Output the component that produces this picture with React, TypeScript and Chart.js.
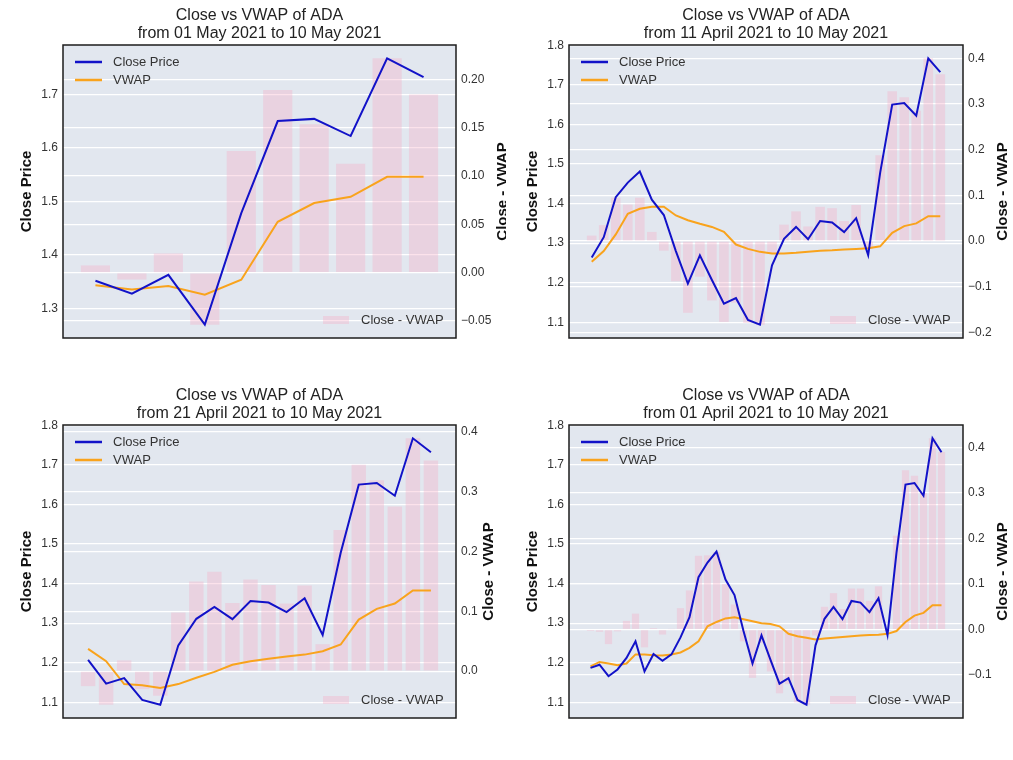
import React, { useEffect, useRef } from 'react';
import { Chart, registerables } from 'chart.js';

Chart.register(...registerables);

const FONT = '"Liberation Sans", Arial, Helvetica, sans-serif';
Chart.defaults.font.family = FONT;

// Daily close price of ADA, 01 April 2021 .. 10 May 2021
const closeApr01to10May = [
  1.187, 1.195, 1.166, 1.183, 1.212, 1.254, 1.178, 1.222, 1.205, 1.221,
  1.264, 1.315, 1.416, 1.453, 1.481, 1.41, 1.371, 1.28, 1.198, 1.269,
  1.207, 1.147, 1.161, 1.106, 1.094, 1.244, 1.311, 1.341, 1.31, 1.356,
  1.352, 1.328, 1.363, 1.27, 1.478, 1.65, 1.654, 1.622, 1.767, 1.732,
];

// VWAP and Close - VWAP, from 01 May 2021
const vwapFromMay01 = [1.3436, 1.3355, 1.342, 1.326, 1.354, 1.462, 1.497, 1.5086, 1.546, 1.546];
const gapFromMay01 = [0.0076, -0.007, 0.02, -0.0537, 0.126, 0.189, 0.1535, 0.1127, 0.2218, 0.1844];

// from 11 April 2021
const vwapFromApr11 = [
  1.253, 1.28, 1.322, 1.374, 1.387, 1.392, 1.392, 1.37, 1.358, 1.349,
  1.341, 1.3285, 1.2965, 1.2855, 1.278, 1.274, 1.274, 1.2755, 1.2785, 1.281,
  1.282, 1.284, 1.2855, 1.287, 1.292, 1.326, 1.343, 1.35, 1.368, 1.368,
];
const gapFromApr11 = [
  0.012, 0.035, 0.095, 0.08, 0.095, 0.02, -0.021, -0.088, -0.157, -0.078,
  -0.13, -0.177, -0.135, -0.179, -0.183, -0.028, 0.036, 0.065, 0.032, 0.075,
  0.072, 0.044, 0.079, -0.017, 0.188, 0.328, 0.315, 0.285, 0.4, 0.365,
];

// from 21 April 2021
const vwapFromApr21 = [
  1.235, 1.204, 1.146, 1.143, 1.136, 1.146, 1.162, 1.177, 1.195, 1.204,
  1.21, 1.2155, 1.2205, 1.229, 1.246, 1.309, 1.336, 1.3496, 1.3825, 1.3825,
];
const gapFromApr21 = [
  -0.025, -0.056, 0.018, -0.03, -0.041, 0.098, 0.15, 0.166, 0.114, 0.153,
  0.144, 0.113, 0.143, 0.045, 0.236, 0.345, 0.319, 0.275, 0.389, 0.352,
];

// from 01 April 2021
const vwapFromApr01 = [
  1.191, 1.202, 1.198, 1.1935, 1.198, 1.221, 1.221, 1.219, 1.218, 1.221,
  1.226, 1.2375, 1.254, 1.292, 1.303, 1.312, 1.315, 1.31, 1.305, 1.3,
  1.298, 1.292, 1.273, 1.267, 1.263, 1.259, 1.261, 1.263, 1.265, 1.267,
  1.269, 1.27, 1.271, 1.273, 1.28, 1.303, 1.319, 1.326, 1.345, 1.345,
];
const gapFromApr01 = [
  -0.003, -0.005, -0.032, -0.004, 0.019, 0.035, -0.039, 0.003, -0.011, 0.001,
  0.047, 0.086, 0.162, 0.163, 0.17, 0.1, 0.055, -0.026, -0.106, -0.03,
  -0.092, -0.14, -0.12, -0.16, -0.165, -0.013, 0.05, 0.08, 0.045, 0.09,
  0.09, 0.063, 0.095, -0.003, 0.206, 0.35, 0.338, 0.3, 0.42, 0.39,
];

const mainTitle = 'Close vs VWAP of ADA';
const subTitles = [
  'from 01 May 2021 to 10 May 2021',
  'from 11 April 2021 to 10 May 2021',
  'from 21 April 2021 to 10 May 2021',
  'from 01 April 2021 to 10 May 2021',
];
const legendLabels = ['Close Price', 'VWAP', 'Close - VWAP'];
const leftAxisTitle = 'Close Price';
const rightAxisTitle = 'Close - VWAP';

const BLUE = '#1212c8';
const ORANGE = '#f9a31c';
const PINK = 'rgba(245, 170, 195, 0.34)';
const BG = '#e2e7ef';
const TEXT = '#333333';

type Panel = {
  sub: string;
  close: number[];
  vwap: number[];
  gap: number[];
  leftStep: number;
  leftDec: number;
  rightStep: number;
  rightDec: number;
  x: number;
  y: number;
  w: number;
  h: number;
};

const panels: Panel[] = [
  { sub: subTitles[0], close: closeApr01to10May.slice(30), vwap: vwapFromMay01, gap: gapFromMay01, leftStep: 0.1, leftDec: 1, rightStep: 0.05, rightDec: 2, x: 0, y: 0, w: 506, h: 380 },
  { sub: subTitles[1], close: closeApr01to10May.slice(10), vwap: vwapFromApr11, gap: gapFromApr11, leftStep: 0.1, leftDec: 1, rightStep: 0.1, rightDec: 1, x: 506, y: 0, w: 507, h: 380 },
  { sub: subTitles[2], close: closeApr01to10May.slice(20), vwap: vwapFromApr21, gap: gapFromApr21, leftStep: 0.1, leftDec: 1, rightStep: 0.1, rightDec: 1, x: 0, y: 380, w: 506, h: 380 },
  { sub: subTitles[3], close: closeApr01to10May, vwap: vwapFromApr01, gap: gapFromApr01, leftStep: 0.1, leftDec: 1, rightStep: 0.1, rightDec: 1, x: 506, y: 380, w: 507, h: 380 },
];

function fmt(v: number, d: number) {
  const val = Math.abs(v) < 1e-9 ? 0 : v;
  return val.toFixed(d).replace('-', '\u2212');
}

function padRange(vals: number[]) {
  const lo = Math.min(...vals);
  const hi = Math.max(...vals);
  const m = (hi - lo) * 0.05;
  return [lo - m, hi + m];
}

function PanelChart({ p }: { p: Panel }) {
  const ref = useRef<HTMLCanvasElement>(null);
  useEffect(() => {
    if (!ref.current) return;
    const n = p.close.length;
    const span = n - 1 + 0.8;
    const xMin = -0.4 - 0.05 * span;
    const xMax = n - 1 + 0.4 + 0.05 * span;
    const [lMin, lMax] = padRange([...p.close, ...p.vwap]);
    const [rMin, rMax] = padRange(p.gap);
    const rightW = 50;

    const decor = {
      id: 'decor',
      beforeDraw(chart: any) {
        const { ctx, chartArea: a } = chart;
        ctx.save();
        ctx.fillStyle = BG;
        ctx.fillRect(a.left, a.top, a.right - a.left, a.bottom - a.top);
        ctx.restore();
      },
      afterDraw(chart: any) {
        const { ctx, chartArea: a } = chart;
        const cx = (a.left + a.right) / 2;
        const cy = (a.top + a.bottom) / 2;
        ctx.save();
        // frame
        ctx.strokeStyle = '#1c1c1c';
        ctx.lineWidth = 1.5;
        ctx.strokeRect(a.left, a.top, a.right - a.left, a.bottom - a.top);
        // titles
        ctx.fillStyle = '#222';
        ctx.font = `16px ${FONT}`;
        ctx.textAlign = 'center';
        ctx.textBaseline = 'middle';
        ctx.fillText(mainTitle, cx, 16);
        ctx.fillText(p.sub, cx, 34);
        // axis titles
        ctx.font = `bold 15px ${FONT}`;
        ctx.fillStyle = '#111';
        ctx.save();
        ctx.translate(26.7, cy);
        ctx.rotate(-Math.PI / 2);
        ctx.fillText(leftAxisTitle, 0, 0);
        ctx.restore();
        const rs = chart.scales.y1;
        ctx.font = `12px ${FONT}`;
        let mw = 0;
        rs.ticks.forEach((t: any) => {
          mw = Math.max(mw, ctx.measureText(fmt(t.value, p.rightDec)).width);
        });
        ctx.font = `bold 15px ${FONT}`;
        ctx.save();
        ctx.translate(a.right + 5 + mw + 11.5, cy);
        ctx.rotate(-Math.PI / 2);
        ctx.fillText(rightAxisTitle, 0, 0);
        ctx.restore();
        // legend top-left
        ctx.font = `13px ${FONT}`;
        ctx.textAlign = 'left';
        ctx.fillStyle = TEXT;
        ctx.lineWidth = 2.5;
        [BLUE, ORANGE].forEach((c, i) => {
          const y = a.top + 17 + i * 18;
          ctx.strokeStyle = c;
          ctx.beginPath();
          ctx.moveTo(a.left + 12, y);
          ctx.lineTo(a.left + 39, y);
          ctx.stroke();
          ctx.fillText(legendLabels[i], a.left + 50, y + 0.5);
        });
        // legend bottom-right
        ctx.fillStyle = PINK;
        ctx.fillRect(a.right - 133, a.bottom - 22, 26, 8);
        ctx.fillStyle = TEXT;
        ctx.fillText(legendLabels[2], a.right - 95, a.bottom - 18);
        ctx.restore();
      },
    };

    const chart = new Chart(ref.current, {
      type: 'bar',
      data: {
        datasets: [
          {
            type: 'line',
            label: legendLabels[0],
            data: p.close.map((y, i) => ({ x: i, y })),
            borderColor: BLUE,
            borderWidth: 2,
            pointRadius: 0,
            tension: 0,
            yAxisID: 'y',
            order: 1,
          },
          {
            type: 'line',
            label: legendLabels[1],
            data: p.vwap.map((y, i) => ({ x: i, y })),
            borderColor: ORANGE,
            borderWidth: 2,
            pointRadius: 0,
            tension: 0,
            yAxisID: 'y',
            order: 2,
          },
          {
            type: 'bar',
            label: legendLabels[2],
            data: p.gap.map((y, i) => ({ x: i, y })),
            backgroundColor: PINK,
            borderWidth: 0,
            barPercentage: 0.8,
            categoryPercentage: 1,
            yAxisID: 'y1',
            order: 3,
          },
        ],
      } as any,
      options: {
        responsive: false,
        animation: false,
        devicePixelRatio: 1,
        layout: { padding: { top: 45, bottom: 42, left: 0, right: 0 } },
        plugins: {
          legend: { display: false },
          tooltip: { enabled: false },
          title: { display: false },
        },
        scales: {
          x: { type: 'linear', min: xMin, max: xMax, display: false, offset: false },
          y: {
            type: 'linear',
            position: 'left',
            min: lMin,
            max: lMax,
            afterFit: (s: any) => { s.width = 63; },
            grid: { color: '#ffffff', lineWidth: 1.3, drawTicks: false },
            border: { display: false },
            ticks: {
              stepSize: p.leftStep,
              includeBounds: false,
              padding: 5,
              color: TEXT,
              font: { size: 12 },
              callback: (v: any) => fmt(Number(v), p.leftDec),
            },
          },
          y1: {
            type: 'linear',
            position: 'right',
            min: rMin,
            max: rMax,
            afterFit: (s: any) => { s.width = rightW; },
            grid: { color: '#ffffff', lineWidth: 1.3, drawTicks: false },
            border: { display: false },
            ticks: {
              stepSize: p.rightStep,
              includeBounds: false,
              padding: 5,
              color: TEXT,
              font: { size: 12 },
              callback: (v: any) => fmt(Number(v), p.rightDec),
            },
          },
        },
      } as any,
      plugins: [decor],
    });
    return () => chart.destroy();
  }, [p]);

  return (
    <canvas
      ref={ref}
      width={p.w}
      height={p.h}
      style={{ position: 'absolute', left: p.x, top: p.y, width: p.w, height: p.h }}
    />
  );
}

export default function App() {
  return (
    <div style={{ position: 'absolute', left: 0, top: 0, width: 1013, height: 760, background: '#ffffff' }}>
      {panels.map((p, i) => (
        <PanelChart key={i} p={p} />
      ))}
    </div>
  );
}
